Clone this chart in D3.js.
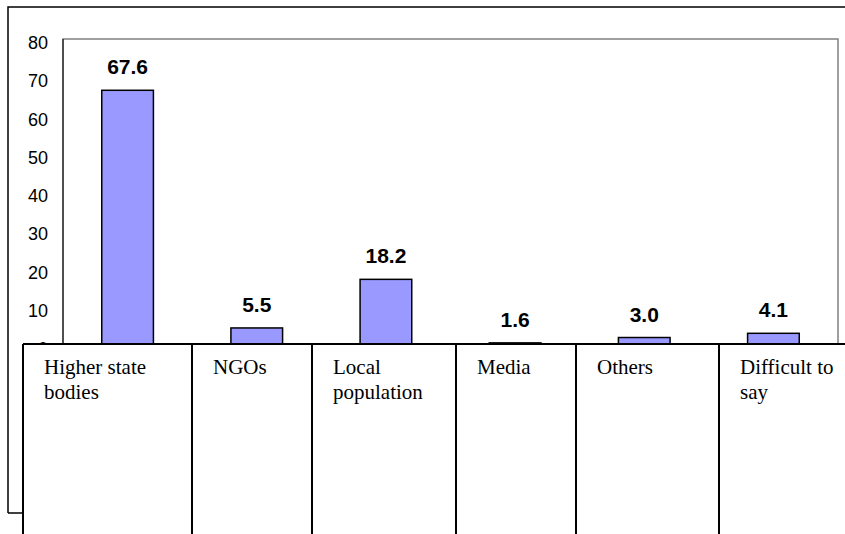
<!DOCTYPE html>
<html>
<head>
<meta charset="utf-8">
<script src="https://cdn.jsdelivr.net/npm/d3@7"></script>
<style>
  html, body { margin: 0; padding: 0; background: #fff; }
  svg { display: block; }
</style>
</head>
<body>
<svg id="chart" width="845" height="534"></svg>
<script>
// Who should respond: share of answers, %
const categories = ["Higher state bodies", "NGOs", "Local population", "Media", "Others", "Difficult to say"];
const values = [67.6, 5.5, 18.2, 1.6, 3.0, 4.1];
const yTicks = [0, 10, 20, 30, 40, 50, 60, 70, 80];
// Wrapped lines as they appear in the category table
const categoryLines = [["Higher state", "bodies"], ["NGOs"], ["Local", "population"], ["Media"], ["Others"], ["Difficult to", "say"]];

const svg = d3.select("#chart");

// Layout
const plot = { left: 63, right: 838, top: 39, zero: 349 };
const frame = { left: 8, top: 7, bottom: 513 };
const tableTop = 344;
const tableEdges = [23, 192, 312, 456, 576, 719, 880];

const x = d3.scaleBand().domain(categories).range([plot.left, plot.right])
  .paddingInner(0.6).paddingOuter(0.3);
const y = d3.scaleLinear().domain([0, 81]).range([plot.zero, plot.top]);

// Outer chart frame
svg.append("path")
  .attr("d", `M${frame.left},${frame.bottom}V${frame.top}H850 M${frame.left},${frame.bottom}H${tableEdges[0]}`)
  .attr("fill", "none").attr("stroke", "#000").attr("stroke-width", 1.5);

// Plot area border
svg.append("path")
  .attr("d", `M${plot.left},${tableTop}V${plot.top}H${plot.right}V${tableTop}`)
  .attr("fill", "none").attr("stroke", "#808080").attr("stroke-width", 1.5);
svg.append("line")
  .attr("x1", plot.left).attr("x2", plot.left).attr("y1", plot.top).attr("y2", tableTop)
  .attr("stroke", "#000").attr("stroke-width", 1);

// Y axis labels
const yAxis = d3.axisLeft(y).tickValues(yTicks).tickSize(0).tickPadding(15);
const gy = svg.append("g").attr("transform", `translate(${plot.left},0)`).call(yAxis);
gy.select(".domain").remove();
gy.selectAll("text")
  .attr("font-family", "'Liberation Sans', Arial, sans-serif")
  .attr("font-size", 18).attr("fill", "#000");

// Bars
svg.append("g").selectAll("rect").data(values).join("rect")
  .attr("x", (d, i) => x(categories[i]))
  .attr("y", d => y(d))
  .attr("width", x.bandwidth())
  .attr("height", d => plot.zero - y(d))
  .attr("fill", "#9999ff")
  .attr("stroke", "#000").attr("stroke-width", 1.5);

// Value labels
svg.append("g").selectAll("text").data(values).join("text")
  .attr("x", (d, i) => x(categories[i]) + x.bandwidth() / 2)
  .attr("y", d => y(d) - 16)
  .attr("text-anchor", "middle")
  .attr("font-family", "'Liberation Sans', Arial, sans-serif")
  .attr("font-weight", "bold").attr("font-size", 21)
  .attr("fill", "#000")
  .text(d => d.toFixed(1));

// Category table laid over the base of the plot
const table = svg.append("g");
table.append("rect")
  .attr("x", tableEdges[0]).attr("y", tableTop)
  .attr("width", 900).attr("height", 300)
  .attr("fill", "#fff");
table.append("line")
  .attr("x1", tableEdges[0]).attr("x2", 850).attr("y1", tableTop).attr("y2", tableTop)
  .attr("stroke", "#000").attr("stroke-width", 2);
table.selectAll("line.col").data(tableEdges.slice(0, -1)).join("line")
  .attr("class", "col")
  .attr("x1", d => d).attr("x2", d => d)
  .attr("y1", tableTop).attr("y2", 540)
  .attr("stroke", "#000").attr("stroke-width", 2);

const cells = table.selectAll("text.cat").data(categoryLines).join("text")
  .attr("class", "cat")
  .attr("x", (d, i) => tableEdges[i] + 21)
  .attr("y", tableTop + 30)
  .attr("font-family", "'Liberation Serif', 'Times New Roman', serif")
  .attr("font-size", 21).attr("fill", "#000");
cells.selectAll("tspan").data(d => d).join("tspan")
  .attr("x", function () { return d3.select(this.parentNode).attr("x"); })
  .attr("dy", (d, j) => j === 0 ? 0 : 25)
  .text(d => d);
</script>
</body>
</html>
